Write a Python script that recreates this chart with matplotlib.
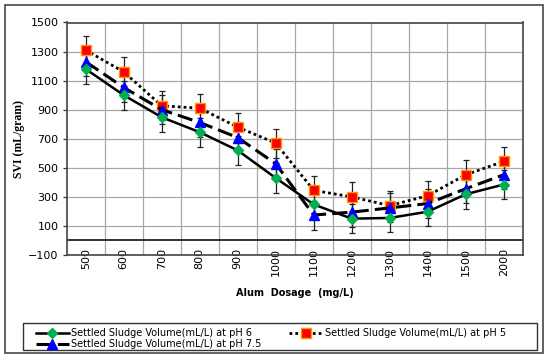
import matplotlib
matplotlib.use("Agg")
from matplotlib import pyplot as plt
from matplotlib.patches import Rectangle

doses = ["500", "600", "700", "800", "900", "1000", "1100", "1200", "1300", "1400", "1500", "2000"]
svi_ph6 = [1180, 1000, 848, 745, 620, 430, 248, 150, 155, 198, 318, 385]
svi_ph5 = [1310, 1160, 927, 910, 780, 670, 345, 300, 240, 308, 452, 544]
svi_ph75 = [1230, 1053, 900, 812, 708, 528, 175, 195, 224, 254, 356, 452]
err_ph6 = [100] * 12
err_ph5 = [100] * 12
err_ph75 = [100] * 12

W, H = 550, 361


def fx(px):
    return px / W


def fy(py):
    return 1 - py / H


fig = plt.figure(figsize=(5.5, 3.61), dpi=100)
ax = fig.add_axes([fx(66.7), fy(255), fx(522.7) - fx(66.7), fy(22.5) - fy(255)])

x = list(range(len(doses)))

# error bars first, under the lines
for vals, errs in [(svi_ph6, err_ph6), (svi_ph5, err_ph5), (svi_ph75, err_ph75)]:
    ax.errorbar(x, vals, yerr=errs, fmt="none", ecolor="#222222", elinewidth=0.9,
                capsize=2.5, capthick=0.9, zorder=3)

l6, = ax.plot(x, svi_ph6, color="black", lw=1.8, ls="-", marker="D", ms=5.5,
              mfc="#00B050", mec="#00B050", zorder=5,
              label="Settled Sludge Volume(mL/L) at pH 6")
l5, = ax.plot(x, svi_ph5, color="black", lw=2.0, ls=(0, (1, 1.1)), marker="s", ms=6.5,
              mfc="#FF0000", mec="#FF9900", mew=1.0, zorder=4,
              label="Settled Sludge Volume(mL/L) at pH 5")
l75, = ax.plot(x, svi_ph75, color="black", lw=2.2, ls=(0, (5, 2)), marker="^", ms=7,
               mfc="#0000FF", mec="#0000FF", zorder=4,
               label="Settled Sludge Volume(mL/L) at pH 7.5")

ax.set_xlim(-0.5, len(doses) - 0.5)
ax.set_ylim(-100, 1500)
ax.set_yticks(range(-100, 1501, 200))
ax.set_xticks(x, labels=doses, rotation=90)
ax.set_xticks([i + 0.5 for i in x[:-1]], minor=True)
ax.tick_params(axis="x", which="both", length=0, pad=-5.2, labelsize=8)
ax.tick_params(axis="y", length=3, width=0.9, pad=3, labelsize=8, color="#333333")

ax.grid(True, axis="y", which="major", color="#A8A8A8", lw=0.9)
ax.grid(True, axis="x", which="minor", color="#A8A8A8", lw=0.9)
ax.set_axisbelow(True)
ax.axhline(0, color="#222222", lw=1.3, zorder=2)
for sp in ax.spines.values():
    sp.set_color("#444444")
    sp.set_linewidth(1.2)

ax.set_ylabel("SVI (mL/gram)", family="Liberation Serif", fontweight="bold", fontsize=8.5,
              labelpad=2)
fig.text(fx(294.5), fy(293), "Alum  Dosage  (mg/L)", ha="center", va="center",
         fontweight="bold", fontsize=7)

# legend box drawn separately
fig.patches.append(Rectangle((fx(22.7), fy(350)), fx(536.7) - fx(22.7), fy(323) - fy(350),
                             transform=fig.transFigure, fill=False, ec="#333333", lw=1.0))
fig.legend(handles=[l6, l75, l5], ncol=2, frameon=False, loc="upper left",
           bbox_to_anchor=(fx(34), fy(326)), fontsize=7, handlelength=3.4,
           handletextpad=0.25, columnspacing=2.8, labelspacing=0.12,
           borderpad=0.2, borderaxespad=0)

# outer border
fig.patches.append(Rectangle((fx(4.7), fy(353)), fx(542.7) - fx(4.7), fy(4.7) - fy(353),
                             transform=fig.transFigure, fill=False, ec="#555555", lw=1.3))

fig.savefig("out.png", dpi=100)
